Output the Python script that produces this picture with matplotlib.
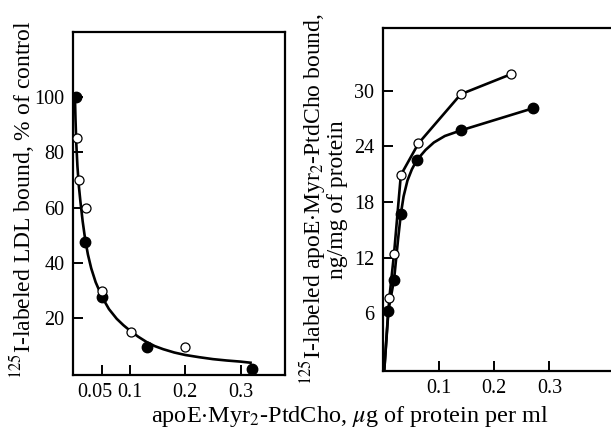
import matplotlib
matplotlib.use("Agg")
import matplotlib.pyplot as plt
import matplotlib.transforms as mtransforms

plt.rcParams['font.family'] = ['Liberation Serif', 'DejaVu Serif']
plt.rcParams['mathtext.fontset'] = 'stix'

# ---- Left panel data: 125I-LDL bound, % of control ----
left_filled_x = [0.002, 0.019, 0.050, 0.130, 0.321]
left_filled_y = [100.0, 47.4, 27.8, 9.7, 1.5]
left_open_x = [0.005, 0.008, 0.020, 0.050, 0.101, 0.200]
left_open_y = [85.0, 70.0, 60.0, 30.0, 15.1, 9.7]
left_curve_x = [0.0005, 0.0015, 0.003, 0.005, 0.0075, 0.0105, 0.0145, 0.019, 0.024,
                0.030, 0.038, 0.050, 0.062, 0.076, 0.088, 0.100, 0.115, 0.130,
                0.145, 0.160, 0.180, 0.200, 0.225, 0.250, 0.275, 0.300, 0.318]
left_curve_y = [100.0, 92.0, 83.0, 75.0, 68.0, 62.0, 55.0, 48.5, 43.0,
                38.0, 33.0, 27.5, 23.3, 19.8, 17.5, 15.5, 13.3, 11.4,
                9.9, 8.8, 7.6, 6.7, 5.9, 5.2, 4.7, 4.3, 3.9]

# ---- Right panel data: 125I-apoE.Myr2-PtdCho bound, ng/mg protein ----
right_open_x = [0.0, 0.009, 0.0176, 0.030, 0.062, 0.139, 0.230]
right_open_y = [0.0, 7.6, 12.4, 20.9, 24.3, 29.6, 31.75]
right_filled_x = [0.007, 0.0176, 0.030, 0.059, 0.139, 0.271]
right_filled_y = [6.2, 9.6, 16.7, 22.5, 25.7, 28.1]
right_curve_x = [0.0, 0.007, 0.0176, 0.025, 0.030, 0.035, 0.042, 0.050, 0.059,
                 0.075, 0.090, 0.110, 0.139, 0.271]
right_curve_y = [0.0, 6.2, 9.6, 14.0, 16.7, 18.6, 20.3, 21.5, 22.5,
                 23.6, 24.4, 25.1, 25.7, 28.1]

left_xticks = [0.05, 0.1, 0.2, 0.3]
left_xticklabels = ['0.05', '0.1', '0.2', '0.3']
left_yticks = [20, 40, 60, 80, 100]
right_xticks = [0.1, 0.2, 0.3]
right_xticklabels = ['0.1', '0.2', '0.3']
right_yticks = [6, 12, 18, 24, 30]

W, H = 611, 433
fig = plt.figure(figsize=(W / 100, H / 100), dpi=100)

FS = 14.5
LFS = 17
XFS = 17.5
LW = 1.9
MS = 7.5

def frac(l, b, r, t):
    return [l / W, 1 - b / H, (r - l) / W, (b - t) / H]

axL = fig.add_axes(frac(73, 375, 285, 32))
axR = fig.add_axes(frac(382.7, 370.7, 615.3, 28.3))

for ax in (axL, axR):
    for s in ax.spines.values():
        s.set_linewidth(1.6)
    ax.tick_params(direction='in', length=7, width=1.4, labelsize=FS, pad=6,
                   top=False, right=False)

# Left panel
axL.plot(left_curve_x, left_curve_y, color='black', lw=LW, zorder=2)
axL.plot(left_filled_x, left_filled_y, 'o', color='black', ms=MS, zorder=3)
axL.plot(left_open_x, left_open_y, 'o', mfc='white', mec='black', mew=0.9, ms=MS - 1, zorder=4)
axL.set_xlim(-0.003, 0.3803)
axL.set_ylim(-0.54, 123.5)
axL.set_xticks(left_xticks)
axL.set_xticklabels(left_xticklabels)
axL.set_yticks(left_yticks)
off = mtransforms.ScaledTranslation(-8 / 100, 0, fig.dpi_scale_trans)
lab0 = axL.get_xticklabels()[0]
lab0.set_transform(lab0.get_transform() + off)
axL.set_ylabel('$^{125}$I-labeled LDL bound, % of control', fontsize=LFS)
axL.yaxis.set_label_coords(-0.17, 0.51)

# Right panel
axR.plot(right_curve_x, right_curve_y, color='black', lw=LW, zorder=2)
axR.plot(right_open_x, right_open_y, color='black', lw=LW, zorder=2)
axR.plot(right_filled_x, right_filled_y, 'o', color='black', ms=MS, zorder=3)
axR.plot(right_open_x[1:], right_open_y[1:], 'o', mfc='white', mec='black', mew=0.9,
         ms=MS - 1, zorder=4)
axR.set_xlim(-0.003, 0.42)
axR.set_ylim(-0.18, 36.7)
axR.set_xticks(right_xticks)
axR.set_xticklabels(right_xticklabels)
axR.set_yticks(right_yticks)
axR.set_ylabel('$^{125}$I-labeled apoE$\\cdot$Myr$_2$-PtdCho bound,\nng/mg of protein',
               fontsize=LFS, linespacing=0.92)
axR.yaxis.set_label_coords(-0.15, 0.50)

fig.text(350 / W, 1 - 422 / H, 'apoE$\\cdot$Myr$_2$-PtdCho, $\\mu$g of protein per ml',
         ha='center', va='baseline', fontsize=XFS)

fig.savefig('out.png', dpi=100)
